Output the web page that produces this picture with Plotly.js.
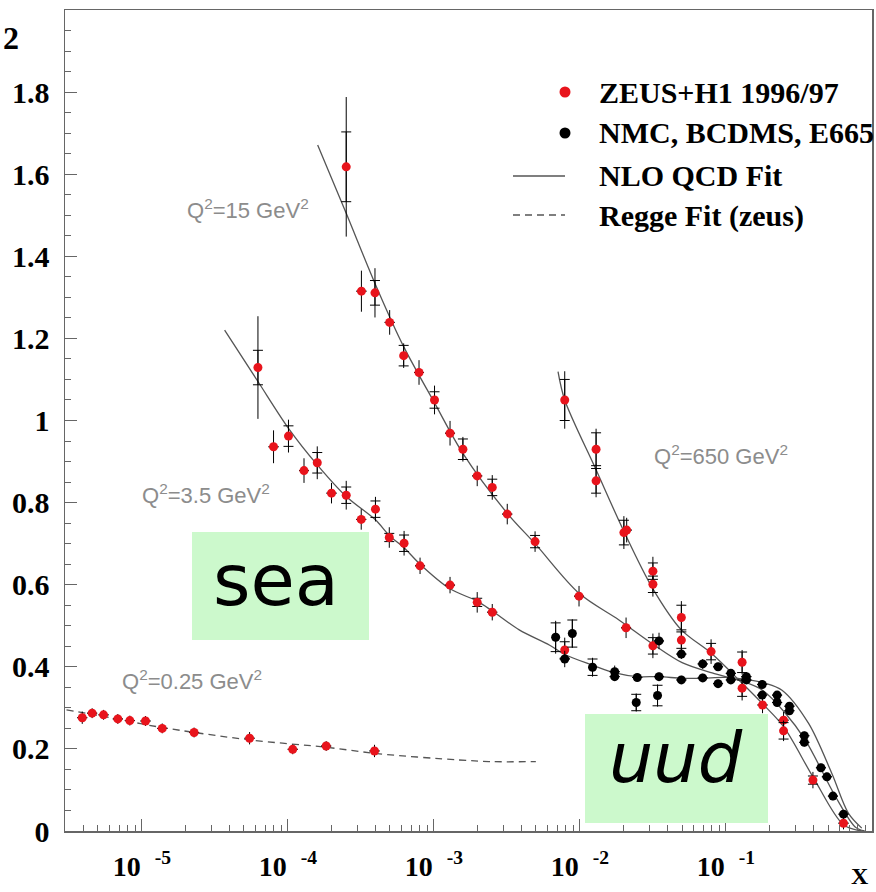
<!DOCTYPE html>
<html>
<head>
<meta charset="utf-8">
<script src="https://cdn.plot.ly/plotly-3.0.1.min.js"></script>
<style>html,body{margin:0;padding:0;background:#fff;}#chart{width:876px;height:892px;}</style>
</head>
<body>
<div id="chart"></div>
<script>
// ---------------- DATA ----------------
// ZEUS+H1 1996/97, Q^2 = 0.25 GeV^2
const zeusQ025_x   = [3.91e-6, 4.57e-6, 5.47e-6, 6.85e-6, 8.28e-6, 1.06e-5, 1.38e-5, 2.28e-5, 5.47e-5, 1.08e-4, 1.83e-4, 3.92e-4];
const zeusQ025_F2  = [0.276, 0.287, 0.283, 0.273, 0.269, 0.268, 0.250, 0.240, 0.226, 0.199, 0.207, 0.195];
const zeusQ025_tot = [0.015, 0.012, 0.012, 0.012, 0.012, 0.012, 0.012, 0.012, 0.015, 0.012, 0.012, 0.015];
const zeusQ025_sta = [0, 0, 0, 0, 0, 0, 0, 0, 0, 0, 0, 0];

// ZEUS+H1, Q^2 = 3.5 GeV^2
const zeusQ35_x   = [6.24e-5, 7.98e-5, 1.01e-4, 1.29e-4, 1.59e-4, 1.99e-4, 2.51e-4, 3.18e-4, 3.98e-4, 4.95e-4, 6.25e-4, 8.04e-4, 1.29e-3, 1.98e-3, 2.51e-3, 7.87e-3];
const zeusQ35_F2  = [1.129, 0.936, 0.962, 0.878, 0.897, 0.823, 0.818, 0.759, 0.784, 0.715, 0.701, 0.646, 0.599, 0.557, 0.533, 0.441];
const zeusQ35_tot = [0.125, 0.040, 0.040, 0.030, 0.040, 0.025, 0.035, 0.025, 0.030, 0.025, 0.030, 0.020, 0.020, 0.025, 0.020, 0.030];
const zeusQ35_sta = [0.042, 0, 0.025, 0, 0.025, 0, 0.020, 0, 0.020, 0.010, 0.020, 0, 0, 0.010, 0, 0.020];

// ZEUS+H1, Q^2 = 15 GeV^2
const zeusQ15_x   = [2.51e-4, 3.19e-4, 3.95e-4, 4.98e-4, 6.21e-4, 7.91e-4, 1.01e-3, 1.29e-3, 1.58e-3, 1.98e-3, 2.51e-3, 3.18e-3, 4.93e-3, 9.86e-3, 2.07e-2, 3.16e-2, 0.129, 0.248];
const zeusQ15_F2  = [1.618, 1.315, 1.311, 1.239, 1.158, 1.117, 1.050, 0.969, 0.930, 0.865, 0.837, 0.772, 0.705, 0.572, 0.495, 0.451, 0.411, 0.270];
const zeusQ15_tot = [0.170, 0.050, 0.060, 0.030, 0.030, 0.030, 0.035, 0.030, 0.030, 0.025, 0.030, 0.025, 0.025, 0.025, 0.025, 0.030, 0.030, 0.020];
const zeusQ15_sta = [0.085, 0, 0.030, 0, 0.025, 0, 0.020, 0, 0.025, 0, 0.020, 0, 0.015, 0, 0, 0.020, 0.025, 0];

// ZEUS+H1, Q^2 = 650 GeV^2
const zeusQ650_x   = [7.87e-3, 1.29e-2, 1.29e-2, 2.00e-2, 2.09e-2, 3.16e-2, 3.16e-2, 4.95e-2, 4.95e-2, 7.91e-2, 0.129, 0.178, 0.248, 0.394, 0.638];
const zeusQ650_F2  = [1.050, 0.930, 0.853, 0.727, 0.733, 0.633, 0.601, 0.520, 0.465, 0.437, 0.348, 0.307, 0.244, 0.124, 0.019];
const zeusQ650_tot = [0.070, 0.050, 0.040, 0.040, 0.030, 0.035, 0.030, 0.040, 0.030, 0.030, 0.030, 0.020, 0.025, 0.020, 0.015];
const zeusQ650_sta = [0.050, 0.040, 0.030, 0.030, 0, 0.020, 0.020, 0.030, 0.020, 0.020, 0.020, 0, 0.020, 0.010, 0];

// NMC, BCDMS, E665 (fixed target)
const fixedT_x   = [6.82e-3, 8.87e-3, 7.87e-3, 1.22e-2, 1.73e-2, 1.73e-2, 2.47e-2, 2.43e-2, 3.48e-2, 3.40e-2, 3.48e-2, 4.95e-2, 4.95e-2, 6.93e-2, 6.93e-2, 8.83e-2, 8.83e-2, 0.108, 0.108, 0.138, 0.138, 0.177, 0.177, 0.224, 0.224, 0.272, 0.272, 0.344, 0.344, 0.447, 0.491, 0.540, 0.638];
const fixedT_F2  = [0.472, 0.481, 0.419, 0.399, 0.388, 0.376, 0.374, 0.313, 0.376, 0.330, 0.463, 0.368, 0.431, 0.407, 0.373, 0.400, 0.359, 0.384, 0.368, 0.376, 0.368, 0.357, 0.331, 0.331, 0.313, 0.304, 0.293, 0.232, 0.216, 0.154, 0.132, 0.085, 0.041];
const fixedT_tot = [0.040, 0.035, 0.020, 0.023, 0.015, 0.010, 0.010, 0.022, 0.010, 0.027, 0.020, 0.010, 0.012, 0.012, 0.010, 0.010, 0.010, 0.010, 0.010, 0.010, 0.010, 0.010, 0.010, 0.010, 0.010, 0.010, 0.010, 0.010, 0.010, 0.010, 0.010, 0.010, 0.010];
const fixedT_sta = [0.035, 0.033, 0, 0.020, 0, 0, 0, 0.020, 0, 0.025, 0, 0, 0, 0, 0, 0, 0, 0, 0, 0, 0, 0, 0, 0, 0, 0, 0, 0, 0, 0, 0, 0, 0];

// NLO QCD fit curves
const nloQ35_x  = [3.69e-5, 6.24e-5, 1.01e-4, 1.59e-4, 2.51e-4, 3.98e-4, 4.95e-4, 6.25e-4, 8.04e-4, 1.29e-3, 1.98e-3, 2.51e-3, 3.84e-3, 6.17e-3, 7.87e-3, 1.22e-2, 1.74e-2, 2.47e-2, 3.48e-2, 5.01e-2, 6.87e-2, 9.91e-2, 0.143, 0.186, 0.242, 0.368, 0.531, 0.690, 0.851];
const nloQ35_F2 = [1.220, 1.095, 0.981, 0.892, 0.815, 0.758, 0.720, 0.690, 0.650, 0.590, 0.560, 0.536, 0.490, 0.453, 0.430, 0.404, 0.385, 0.376, 0.376, 0.372, 0.372, 0.374, 0.368, 0.360, 0.343, 0.262, 0.140, 0.043, 0.007];
const nloQ15_x  = [1.60e-4, 2.51e-4, 3.95e-4, 6.21e-4, 1.01e-3, 1.58e-3, 3.18e-3, 4.93e-3, 9.86e-3, 1.85e-2, 3.16e-2, 5.01e-2, 8.04e-2, 0.129, 0.178, 0.251, 0.349, 0.562, 0.767, 0.891];
const nloQ15_F2 = [1.671, 1.505, 1.334, 1.180, 1.043, 0.920, 0.774, 0.700, 0.579, 0.514, 0.455, 0.410, 0.385, 0.365, 0.343, 0.290, 0.222, 0.084, 0.010, 0.000];
const nloQ650_x  = [7.08e-3, 7.87e-3, 1.29e-2, 2.00e-2, 3.16e-2, 4.95e-2, 7.94e-2, 0.129, 0.178, 0.248, 0.394, 0.638, 0.851];
const nloQ650_F2 = [1.119, 1.050, 0.880, 0.730, 0.590, 0.490, 0.433, 0.360, 0.310, 0.254, 0.132, 0.015, 0.000];

// Regge fit (ZEUS), Q^2 = 0.25 GeV^2
const regge_x  = [3.05e-6, 5.50e-6, 1.33e-5, 5.47e-5, 1.83e-4, 4.24e-4, 1.49e-3, 2.51e-3, 4.99e-3];
const regge_F2 = [0.295, 0.279, 0.253, 0.222, 0.204, 0.188, 0.173, 0.169, 0.169];

// Axis ticks
const xTickVals  = [1e-5, 1e-4, 1e-3, 1e-2, 1e-1];
const xTickText  = ['<b>10\u2002<sup>-5</sup></b>', '<b>10\u2002<sup>-4</sup></b>', '<b>10\u2002<sup>-3</sup></b>', '<b>10\u2002<sup>-2</sup></b>', '<b>10\u2002<sup>-1</sup></b>'];
const xMinorVals = [3e-6,4e-6,5e-6,6e-6,7e-6,8e-6,9e-6, 2e-5,3e-5,4e-5,5e-5,6e-5,7e-5,8e-5,9e-5, 2e-4,3e-4,4e-4,5e-4,6e-4,7e-4,8e-4,9e-4, 2e-3,3e-3,4e-3,5e-3,6e-3,7e-3,8e-3,9e-3, 2e-2,3e-2,4e-2,5e-2,6e-2,7e-2,8e-2,9e-2, 0.2,0.3,0.4,0.5,0.6,0.7,0.8,0.9];
const yTickVals  = [0, 0.2, 0.4, 0.6, 0.8, 1.0, 1.2, 1.4, 1.6, 1.8];
const yTickText  = ['<b>0</b>','<b>0.2</b>','<b>0.4</b>','<b>0.6</b>','<b>0.8</b>','<b>1</b>','<b>1.2</b>','<b>1.4</b>','<b>1.6</b>','<b>1.8</b>'];

const legendLabels = ['ZEUS+H1 1996/97', 'NMC, BCDMS, E665', 'NLO QCD Fit', 'Regge Fit (zeus)'];
const q2Labels = ['Q<sup>2</sup>=15 GeV<sup>2</sup>', 'Q<sup>2</sup>=3.5 GeV<sup>2</sup>', 'Q<sup>2</sup>=650 GeV<sup>2</sup>', 'Q<sup>2</sup>=0.25 GeV<sup>2</sup>'];

// ---------------- STYLE / LAYOUT ----------------
const W = 876, H = 892;
const M = {l: 65, r: 4, t: 10, b: 61};
const PW = W - M.l - M.r, PH = H - M.t - M.b;
const px = v => (v - M.l) / PW;           // pixel -> paper x
const py = v => (H - M.b - v) / PH;       // pixel -> paper y

const lineCol = '#555555';
const traces = [];

function curve(x, y, dash) {
  traces.push({x: x, y: y, type: 'scatter', mode: 'lines', hoverinfo: 'skip',
    line: {color: lineCol, width: 1.3, shape: 'spline', smoothing: 0.9, dash: dash || 'solid'}});
}
function points(x, y, tot, sta, color) {
  // stat-error ticks (capped)
  traces.push({x: x, y: y, type: 'scatter', mode: 'markers', hoverinfo: 'skip',
    marker: {size: 1, color: 'rgba(0,0,0,0)'},
    error_y: {type: 'data', array: sta, visible: true, color: '#000', thickness: 1, width: 5}});
  // total error (no caps) + markers
  traces.push({x: x, y: y, type: 'scatter', mode: 'markers',
    marker: {size: 9, color: color, line: {width: 0}},
    error_y: {type: 'data', array: tot, visible: true, color: '#000', thickness: 1, width: 0}});
}

curve(nloQ35_x, nloQ35_F2);
curve(nloQ15_x, nloQ15_F2);
curve(nloQ650_x, nloQ650_F2);
curve(regge_x, regge_F2, '7px,5px');
points(zeusQ025_x, zeusQ025_F2, zeusQ025_tot, zeusQ025_sta, '#e8141c');
points(zeusQ35_x, zeusQ35_F2, zeusQ35_tot, zeusQ35_sta, '#e8141c');
points(zeusQ15_x, zeusQ15_F2, zeusQ15_tot, zeusQ15_sta, '#e8141c');
points(zeusQ650_x, zeusQ650_F2, zeusQ650_tot, zeusQ650_sta, '#e8141c');
points(fixedT_x, fixedT_F2, fixedT_tot, fixedT_sta, '#000000');

const serifB = {family: 'Liberation Serif, Times New Roman, serif', size: 30, color: '#000'};
const grayF = {family: 'Liberation Sans, Arial, sans-serif', size: 22, color: '#8c8c8c'};

const annotations = [];
// legend texts
const legY = [92, 133, 175, 216];
legendLabels.forEach((t, i) => annotations.push({xref: 'paper', yref: 'paper', x: px(597), y: py(legY[i]),
  xanchor: 'left', yanchor: 'middle', text: '<b>' + t + '</b>', showarrow: false, font: serifB}));
// Q2 labels
const q2Pos = [[185, 209], [140, 494], [652, 455], [120, 680]];
q2Labels.forEach((t, i) => annotations.push({xref: 'paper', yref: 'paper', x: px(q2Pos[i][0]), y: py(q2Pos[i][1]),
  xanchor: 'left', yanchor: 'middle', text: t, showarrow: false, font: grayF}));
// axis titles (the reference shows only the subscript "2" of F2 at the top-left corner)
annotations.push({xref: 'paper', yref: 'paper', x: px(1), y: py(38), xanchor: 'left', yanchor: 'middle',
  text: '<b>2</b>', showarrow: false, font: {family: serifB.family, size: 32, color: '#000'}});
annotations.push({xref: 'paper', yref: 'paper', x: px(860), y: py(876), xanchor: 'center', yanchor: 'middle',
  text: '<b>X</b>', showarrow: false, font: {family: serifB.family, size: 24, color: '#000'}});
// sea / uud
annotations.push({xref: 'paper', yref: 'paper', x: px(276), y: py(580), xanchor: 'center', yanchor: 'middle',
  text: 'sea', showarrow: false, font: {family: 'DejaVu Sans, sans-serif', size: 72, color: '#000'}});
annotations.push({xref: 'paper', yref: 'paper', x: px(676), y: py(758), xanchor: 'center', yanchor: 'middle',
  text: '<i>uud</i>', showarrow: false, font: {family: 'DejaVu Sans, sans-serif', size: 70, color: '#000'}});

const greenFill = '#ccf9cc';
const r = 5.5;
const shapes = [
  {type: 'rect', xref: 'paper', yref: 'paper', x0: px(192), x1: px(369), y0: py(640), y1: py(532), fillcolor: greenFill, line: {width: 0}, layer: 'below'},
  {type: 'rect', xref: 'paper', yref: 'paper', x0: px(585), x1: px(768), y0: py(823), y1: py(714), fillcolor: greenFill, line: {width: 0}, layer: 'above'},
  // legend keys
  {type: 'circle', xref: 'paper', yref: 'paper', x0: px(565 - r), x1: px(565 + r), y0: py(92 + r), y1: py(92 - r), fillcolor: '#e8141c', line: {width: 0}},
  {type: 'circle', xref: 'paper', yref: 'paper', x0: px(565 - r), x1: px(565 + r), y0: py(133 + r), y1: py(133 - r), fillcolor: '#000', line: {width: 0}},
  {type: 'line', xref: 'paper', yref: 'paper', x0: px(513), x1: px(565), y0: py(176), y1: py(176), line: {color: lineCol, width: 1.3}},
  {type: 'line', xref: 'paper', yref: 'paper', x0: px(513), x1: px(565), y0: py(215), y1: py(215), line: {color: lineCol, width: 1.3, dash: '7px,5px'}}
];

const axisCommon = {showgrid: false, zeroline: false, showline: true, mirror: true, linecolor: '#666', linewidth: 1.5,
  ticks: 'inside', ticklen: 12, tickwidth: 1, tickcolor: '#666'};

const layout = {
  width: W, height: H, margin: M, paper_bgcolor: '#fff', plot_bgcolor: '#fff', showlegend: false,
  xaxis: Object.assign({}, axisCommon, {type: 'log', range: [-5.526, 0], tickmode: 'array', tickvals: xTickVals, ticktext: xTickText,
    tickfont: {family: serifB.family, size: 28, color: '#000'}, ticklabelstandoff: 10,
    minor: {tickmode: 'array', tickvals: xMinorVals, ticks: 'inside', ticklen: 6, tickcolor: '#666', showgrid: false}}),
  yaxis: Object.assign({}, axisCommon, {range: [0, 2.0], tickmode: 'array', tickvals: yTickVals, ticktext: yTickText,
    tickfont: {family: serifB.family, size: 30, color: '#000'}, ticklabelstandoff: 8,
    minor: {dtick: 0.05, ticks: 'inside', ticklen: 6, tickcolor: '#666', showgrid: false}}),
  annotations: annotations, shapes: shapes
};

Plotly.newPlot('chart', traces, layout, {displayModeBar: false, staticPlot: true});
</script>
</body>
</html>
